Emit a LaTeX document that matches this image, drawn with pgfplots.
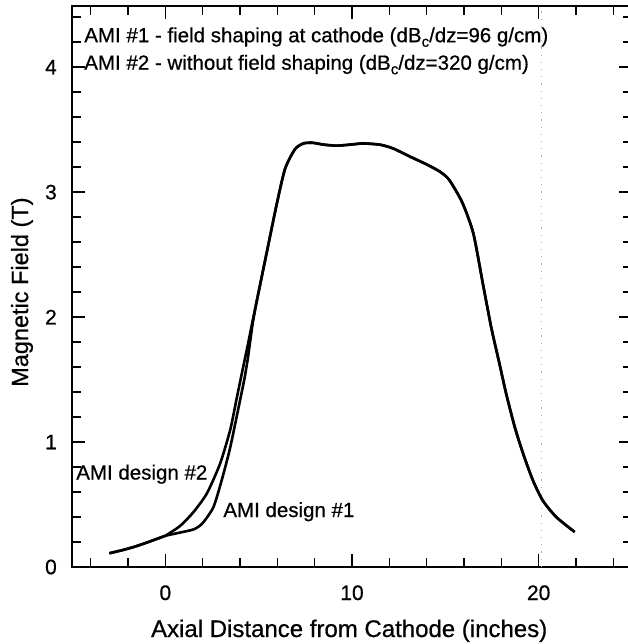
\documentclass[border=0pt]{standalone}
\usepackage{fontspec}
\setmainfont{Liberation Sans}[FakeBold=0.6]
\usepackage{pgfplots}
\pgfplotsset{compat=1.18}

% Design #1: field shaping at the cathode
\pgfplotstableread{
x y
-3.00 0.110
-2.30 0.135
-1.70 0.160
-1.00 0.195
-0.40 0.228
 0.00 0.250
 0.80 0.276
 1.50 0.300
 1.80 0.325
 2.05 0.360
 2.58 0.480
 3.03 0.700
 3.48 0.960
 4.01 1.340
 4.23 1.500
 4.40 1.650
 4.54 1.800
 4.68 1.950
 4.90 2.130
 5.45 2.530
 5.99 2.920
 6.42 3.190
 6.95 3.345
 7.40 3.390
 7.90 3.395
 8.50 3.380
 9.20 3.372
10.00 3.382
10.60 3.390
11.50 3.380
12.20 3.350
13.10 3.285
14.00 3.222
14.70 3.165
15.20 3.100
15.90 2.920
16.50 2.670
17.02 2.260
17.47 1.910
17.91 1.620
18.27 1.380
18.72 1.120
19.16 0.910
19.70 0.690
20.23 0.530
20.94 0.400
21.93 0.280
}\designone

% Design #2: without field shaping
\pgfplotstableread{
x y
-3.00 0.110
-2.30 0.135
-1.70 0.160
-1.00 0.195
-0.40 0.228
 0.00 0.250
 0.80 0.330
 1.51 0.440
 2.23 0.590
 2.94 0.830
 3.48 1.100
 3.81 1.340
 4.03 1.500
 4.24 1.650
 4.45 1.800
 4.65 1.950
 4.90 2.130
 5.45 2.530
 5.99 2.920
 6.42 3.190
 6.95 3.345
 7.40 3.390
 7.90 3.395
 8.50 3.380
 9.20 3.372
10.00 3.382
10.60 3.390
11.50 3.380
12.20 3.350
13.10 3.285
14.00 3.222
14.70 3.165
15.20 3.100
15.90 2.920
16.50 2.670
17.02 2.260
17.47 1.910
17.91 1.620
18.27 1.380
18.72 1.120
19.16 0.910
19.70 0.690
20.23 0.530
20.94 0.400
21.93 0.280
}\designtwo

\newcommand{\subc}{\raisebox{-0.42ex}{\fontsize{15}{15}\selectfont c}}

\begin{document}
\begin{tikzpicture}
\begin{axis}[
  scale only axis,
  width=560pt, height=561pt,
  xmin=-5, xmax=25, ymin=0, ymax=4.49,
  axis line style={line width=1.7pt},
  tick style={line width=1.6pt, black},
  tick align=inside, tick pos=both,
  xticklabel pos=left, yticklabel pos=left,
  major tick length=13pt, minor tick length=9pt,
  xtick={0,10,20}, minor xtick={-4,-2,2,4,6,8,12,14,16,18,22,24},
  ytick={0,1,2,3,4},
  minor ytick={0.2,0.4,0.6,0.8,1.2,1.4,1.6,1.8,2.2,2.4,2.6,2.8,3.2,3.4,3.6,3.8,4.2,4.4},
  /pgf/number format/assume math mode=true,
  tick label style={font=\fontsize{21}{21}\selectfont},
  xticklabel style={anchor=base, inner sep=0pt, yshift=-33pt},
  yticklabel style={anchor=east, inner sep=0pt, xshift=-15pt},
  xlabel={Axial Distance from Cathode (inches)},
  ylabel={Magnetic Field (T)},
  xlabel style={font=\fontsize{24}{24}\selectfont, at={(axis description cs:0.495,0)},
                anchor=base, inner sep=0pt, yshift=-70pt},
  ylabel style={font=\fontsize{23.5}{24}\selectfont, at={(axis description cs:0,0.49)},
                anchor=center, inner sep=0pt, yshift=50pt},
  clip=false,
]
  \coordinate (O) at (rel axis cs:0,0);

  % faint vertical fold line near x = 20
  \draw[gray!60, line width=0.7pt, dash pattern=on 1.2pt off 6pt]
    (axis cs:20.15,0) -- (axis cs:20.15,4.49);

  \addplot[black, line width=2.6pt, smooth, tension=0.4, line join=round] table {\designone};
  \addplot[black, line width=2.6pt, smooth, tension=0.4, line join=round] table {\designtwo};

  \node[anchor=base west, inner sep=0pt, font=\fontsize{20.5}{21}\selectfont]
    at (axis cs:-4.35,4.2) {AMI \#1 - field shaping at cathode (dB\subc/dz=96 g/cm)};
  \node[anchor=base west, inner sep=0pt, font=\fontsize{20.5}{21}\selectfont]
    at (axis cs:-4.35,3.98) {AMI \#2 - without field shaping (dB\subc/dz=320 g/cm)};

  \node[anchor=base west, inner sep=0pt, font=\fontsize{20.5}{21}\selectfont]
    at (axis cs:-4.78,0.70) {AMI design \#2};
  \node[anchor=base west, inner sep=0pt, font=\fontsize{20.5}{21}\selectfont]
    at (axis cs:3.10,0.40) {AMI design \#1};
\end{axis}
\pgfresetboundingbox
\path[use as bounding box] (O) ++(-72pt,-77pt) rectangle ++(627pt,644pt);
\end{tikzpicture}
\end{document}
